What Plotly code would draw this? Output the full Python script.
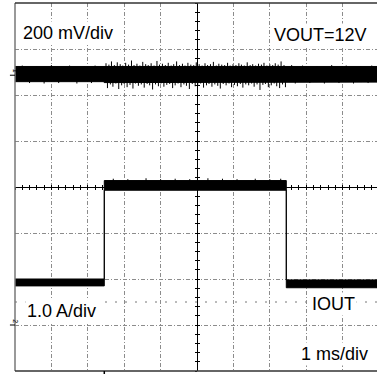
import plotly.graph_objects as go

# ---- data (time in ms, amplitude in divisions) ----
T_MIN, T_MAX = -5.0, 4.945
D_MIN, D_MAX = -4.0, 4.0

# VOUT noise band (body envelope)
vout_t = [-5.0, -2.55, -2.55, 2.45, 2.45, 4.945]
vout_top = [2.62, 2.62, 2.61, 2.61, 2.62, 2.62]
vout_bot = [2.29, 2.29, 2.27, 2.27, 2.28, 2.28]

# VOUT noise spikes (upper edge)
spk_top_t = [-4.8, -4.4, -4.0, -3.5, -3.1, -2.8,
             -2.50, -2.42, -2.35, -2.27, -2.19, -2.11, -2.04, -1.96, -1.88, -1.80,
             -1.73, -1.65, -1.57, -1.49, -1.41, -1.34, -1.26, -1.18, -1.10, -1.03,
             -0.95, -0.87, -0.79, -0.71, -0.64, -0.56, -0.48, -0.40, -0.33, -0.25,
             -0.17, -0.09, -0.02, 0.06, 0.14, 0.22, 0.29, 0.37, 0.45, 0.53,
             0.60, 0.68, 0.76, 0.84, 0.91, 0.99, 1.07, 1.15, 1.22, 1.30,
             1.38, 1.46, 1.53, 1.61, 1.69, 1.77, 1.84, 1.92, 2.00, 2.08,
             2.15, 2.23, 2.31, 2.39,
             2.6, 2.9, 3.3, 3.7, 4.1, 4.5, 4.8]
spk_top_v = [2.64, 2.63, 2.65, 2.64, 2.63, 2.64,
             2.69, 2.66, 2.73, 2.65, 2.71, 2.67, 2.64, 2.70, 2.66, 2.75,
             2.65, 2.68, 2.64, 2.72, 2.67, 2.65, 2.69, 2.64, 2.74, 2.66,
             2.68, 2.65, 2.70, 2.64, 2.67, 2.73, 2.65, 2.68, 2.64, 2.70,
             2.66, 2.65, 2.71, 2.67, 2.64, 2.69, 2.65, 2.67, 2.72, 2.64,
             2.68, 2.66, 2.65, 2.70, 2.64, 2.67, 2.65, 2.69, 2.66, 2.64,
             2.71, 2.65, 2.67, 2.64, 2.68, 2.66, 2.70, 2.64, 2.67, 2.65,
             2.69, 2.66, 2.73, 2.65,
             2.65, 2.64, 2.63, 2.65, 2.64, 2.63, 2.64]

# VOUT noise spikes (lower edge)
spk_bot_t = [-4.6, -4.2, -3.8, -3.3, -2.9,
             -2.46, -2.38, -2.31, -2.23, -2.15, -2.07, -2.00, -1.92, -1.84, -1.76,
             -1.69, -1.61, -1.53, -1.45, -1.37, -1.30, -1.22, -1.14, -1.06, -0.99,
             -0.91, -0.83, -0.75, -0.67, -0.60, -0.52, -0.44, -0.36, -0.29, -0.21,
             -0.13, -0.05, 0.02, 0.10, 0.18, 0.26, 0.33, 0.41, 0.49, 0.57,
             0.64, 0.72, 0.80, 0.88, 0.95, 1.03, 1.11, 1.19, 1.26, 1.34,
             1.42, 1.50, 1.57, 1.65, 1.73, 1.81, 1.88, 1.96, 2.04, 2.12,
             2.19, 2.27, 2.35, 2.43,
             2.7, 3.1, 3.5, 3.9, 4.3, 4.7]
spk_bot_v = [2.26, 2.25, 2.26, 2.25, 2.26,
             2.15, 2.23, 2.18, 2.25, 2.13, 2.21, 2.24, 2.17, 2.22, 2.14,
             2.25, 2.20, 2.23, 2.16, 2.24, 2.21, 2.12, 2.23, 2.19, 2.25,
             2.18, 2.22, 2.24, 2.15, 2.21, 2.25, 2.17, 2.23, 2.20, 2.13,
             2.24, 2.19, 2.22, 2.25, 2.16, 2.21, 2.24, 2.18, 2.23, 2.20,
             2.14, 2.24, 2.21, 2.25, 2.17, 2.22, 2.19, 2.24, 2.16, 2.23,
             2.21, 2.25, 2.18, 2.23, 2.11, 2.22, 2.24, 2.17, 2.21, 2.25,
             2.19, 2.15, 2.23, 2.17,
             2.25, 2.26, 2.25, 2.26, 2.25, 2.26]

# IOUT (load current step) band
iout_t = [-5.0, -2.547, -2.547, 2.453, 2.453, 4.945]
iout_top = [-2.00, -2.00, 0.14, 0.14, -2.02, -2.02]
iout_bot = [-2.15, -2.15, -0.07, -0.07, -2.19, -2.19]

# IOUT ripple on top of the high level
iout_spk_t = [-2.3, -1.9, -1.4, -1.0, -0.6, -0.2, 0.3, 0.7, 1.1, 1.6, 2.0, 2.3]
iout_spk_v = [0.18, 0.17, 0.19, 0.17, 0.18, 0.17, 0.19, 0.18, 0.17, 0.18, 0.17, 0.18]

trigger_t = -2.547
ref_level = -2.5

labels = {
    "vdiv": "200 mV/div",
    "vout": "VOUT=12V",
    "idiv": "1.0 A/div",
    "iout": "IOUT",
    "tdiv": "1 ms/div",
}

FONT = "Liberation Sans, Arial, sans-serif"
GRID = "#8c8c8c"

fig = go.Figure()

# VOUT body
fig.add_trace(go.Scatter(
    x=vout_t + vout_t[::-1], y=vout_top + vout_bot[::-1],
    fill="toself", fillcolor="black", mode="lines",
    line=dict(color="black", width=1), hoverinfo="skip", showlegend=False))

# VOUT / IOUT spikes
sx, sy = [], []
for t, v in zip(spk_top_t, spk_top_v):
    sx += [t, t, None]
    sy += [2.5, v, None]
for t, v in zip(spk_bot_t, spk_bot_v):
    sx += [t, t, None]
    sy += [2.4, v, None]
for t, v in zip(iout_spk_t, iout_spk_v):
    sx += [t, t, None]
    sy += [0.0, v, None]
fig.add_trace(go.Scatter(x=sx, y=sy, mode="lines", line=dict(color="black", width=1),
                         hoverinfo="skip", showlegend=False))

# IOUT band
fig.add_trace(go.Scatter(
    x=iout_t + iout_t[::-1], y=iout_top + iout_bot[::-1],
    fill="toself", fillcolor="black", mode="lines",
    line=dict(color="black", width=1), hoverinfo="skip", showlegend=False))

# dummy traces to activate centre graticule axes
fig.add_trace(go.Scatter(x=[None], y=[None], xaxis="x2", yaxis="y2", showlegend=False, hoverinfo="skip"))
fig.add_trace(go.Scatter(x=[None], y=[None], xaxis="x3", yaxis="y3", showlegend=False, hoverinfo="skip"))

grid_common = dict(showgrid=True, gridcolor=GRID, gridwidth=1, griddash="4px,2px,1px,2px",
                   showticklabels=False, zeroline=False, ticks="", showline=False, dtick=1, tick0=0)

xc = (0 - T_MIN) / (T_MAX - T_MIN)

def centre_axis(kind, ticks, overlay):
    d = dict(overlaying=overlay, anchor="free", showline=True, linecolor="black", linewidth=1,
             ticks=ticks, ticklen=2, tickwidth=1, tickcolor="black", showticklabels=False,
             showgrid=False, zeroline=False, tick0=0, dtick=0.2)
    if kind == "x":
        d.update(range=[T_MIN, T_MAX], position=0.5)
    else:
        d.update(range=[D_MIN, D_MAX], position=xc)
    return d

fig.update_layout(
    width=377, height=374,
    margin=dict(l=15, r=0, t=3, b=3),
    paper_bgcolor="white", plot_bgcolor="white",
    showlegend=False,
    xaxis=dict(range=[T_MIN, T_MAX], **grid_common),
    yaxis=dict(range=[D_MIN, D_MAX], **grid_common),
    xaxis2=centre_axis("x", "outside", "x"),
    yaxis2=centre_axis("y", "outside", "y"),
    xaxis3=centre_axis("x", "inside", "x"),
    yaxis3=centre_axis("y", "inside", "y"),
)

# reference level dotted line
fig.add_shape(type="line", xref="paper", yref="y", x0=0, x1=1, y0=ref_level, y1=ref_level,
              line=dict(color="#777777", width=1, dash="2px,8px"), layer="below")

# borders
fig.add_shape(type="line", xref="paper", yref="paper", x0=0, x1=0, y0=0, y1=1,
              line=dict(color="#777777", width=1.5))
fig.add_shape(type="line", xref="paper", yref="paper", x0=0, x1=1, y0=1, y1=1,
              line=dict(color="#333333", width=1.5))
fig.add_shape(type="line", xref="paper", yref="paper", x0=0, x1=1, y0=0, y1=0,
              line=dict(color="#333333", width=1.5))
# trigger position marker
fig.add_shape(type="line", xref="x", yref="paper", x0=trigger_t, x1=trigger_t, y0=0, y1=-0.009,
              line=dict(color="black", width=1.5))

# channel markers
for txt, lvl in (("1", 2.54), ("2", -2.91)):
    fig.add_annotation(x=-0.0138, xref="paper", y=lvl, yref="y", text=txt, showarrow=False,
                       textangle=90, font=dict(family=FONT, size=7, color="black"))
fig.add_shape(type="line", xref="paper", yref="y", x0=-0.014, x1=0, y0=2.43, y1=2.43,
              line=dict(color="black", width=1))
fig.add_shape(type="line", xref="paper", yref="y", x0=-0.014, x1=0, y0=-3.0, y1=-3.0,
              line=dict(color="black", width=1))

def label(text, x, y, anchor):
    fig.add_annotation(x=x, y=y, xref="x", yref="y", text=text, showarrow=False,
                       xanchor=anchor, yanchor="middle", bgcolor="white", borderpad=1,
                       font=dict(family=FONT, size=18, color="black"))

label(labels["vdiv"], -4.835, 3.35, "left")
label(labels["vout"], 4.725, 3.30, "right")
label(labels["idiv"], -4.725, -2.70, "left")
label(labels["iout"], 4.396, -2.54, "right")
label(labels["tdiv"], 4.753, -3.62, "right")

fig.write_html("out.html", config={"displayModeBar": False},
               post_script="document.body.style.margin='0';document.body.style.overflow='hidden';")
